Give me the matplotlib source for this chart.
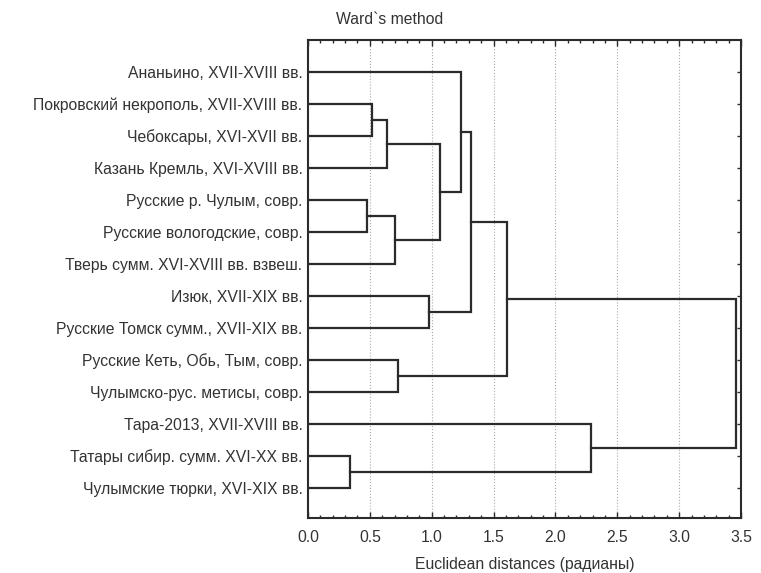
import numpy as np
import matplotlib.pyplot as plt
from matplotlib.ticker import MultipleLocator

plt.rcParams["font.family"] = ["Liberation Sans", "DejaVu Sans"]

labels = [
    "Ананьино, XVII-XVIII вв.",
    "Покровский некрополь, XVII-XVIII вв.",
    "Чебоксары, XVI-XVII вв.",
    "Казань Кремль, XVI-XVIII вв.",
    "Русские р. Чулым, совр.",
    "Русские вологодские, совр.",
    "Тверь сумм. XVI-XVIII вв. взвеш.",
    "Изюк, XVII-XIX вв.",
    "Русские Томск сумм., XVII-XIX вв.",
    "Русские Кеть, Обь, Тым, совр.",
    "Чулымско-рус. метисы, совр.",
    "Тара-2013, XVII-XVIII вв.",
    "Татары сибир. сумм. XVI-XX вв.",
    "Чулымские тюрки, XVI-XIX вв.",
]

# linkage: (left child, right child, distance); new clusters numbered from 14
merge_left = [1, 14, 4, 16, 15, 0, 7, 19, 9, 21, 12, 11, 23]
merge_right = [2, 3, 5, 6, 17, 18, 8, 20, 10, 22, 13, 24, 25]
merge_dist = [0.52, 0.64, 0.48, 0.70, 1.065, 1.237, 0.975, 1.32, 0.73, 1.61, 0.34, 2.29, 3.46]

ink = "#2b2b2b"
fs = 11.3

fig = plt.figure(figsize=(7.61, 5.73), dpi=100)
ax = fig.add_axes([308 / 761, 1 - 518 / 573, 433 / 761, 478 / 573])

n = len(labels)
ypos = {i: i + 1.0 for i in range(n)}
xpos = {i: 0.0 for i in range(n)}
for k, (a, b, d) in enumerate(zip(merge_left, merge_right, merge_dist)):
    node = n + k
    ax.plot([xpos[a], d, d, xpos[b]], [ypos[a], ypos[a], ypos[b], ypos[b]],
            color=ink, lw=1.6, solid_joinstyle="miter", zorder=3)
    ypos[node] = (ypos[a] + ypos[b]) / 2
    xpos[node] = d

ax.set_xlim(0, 3.5)
ax.set_ylim(14.94, 0)
ax.set_yticks(np.arange(1, n + 1))
ax.set_yticklabels(labels, fontsize=fs, color="#333333")
ax.tick_params(axis="y", left=False, right=True, direction="in", length=3,
               width=1, color=ink, pad=4)

ax.xaxis.set_major_locator(MultipleLocator(0.5))
ax.xaxis.set_minor_locator(MultipleLocator(0.1))
ax.tick_params(axis="x", which="both", top=True, bottom=True, direction="in",
               color=ink, labelsize=fs, labelcolor="#333333", pad=9)
ax.tick_params(axis="x", which="major", length=4, width=1)
ax.tick_params(axis="x", which="minor", length=2.5, width=1)
ax.grid(axis="x", which="major", linestyle=":", color="#aaaaaa", lw=0.8)

for s in ax.spines.values():
    s.set_color(ink)
    s.set_linewidth(1.5)

ax.set_xlabel("Euclidean distances (радианы)", fontsize=fs, color="#333333", labelpad=8)
fig.text(336 / 761, 1 - 20 / 573, "Ward`s method", fontsize=fs, color="#333333",
         ha="left", va="center")

fig.savefig("out.png", dpi=100)
plt.close(fig)
